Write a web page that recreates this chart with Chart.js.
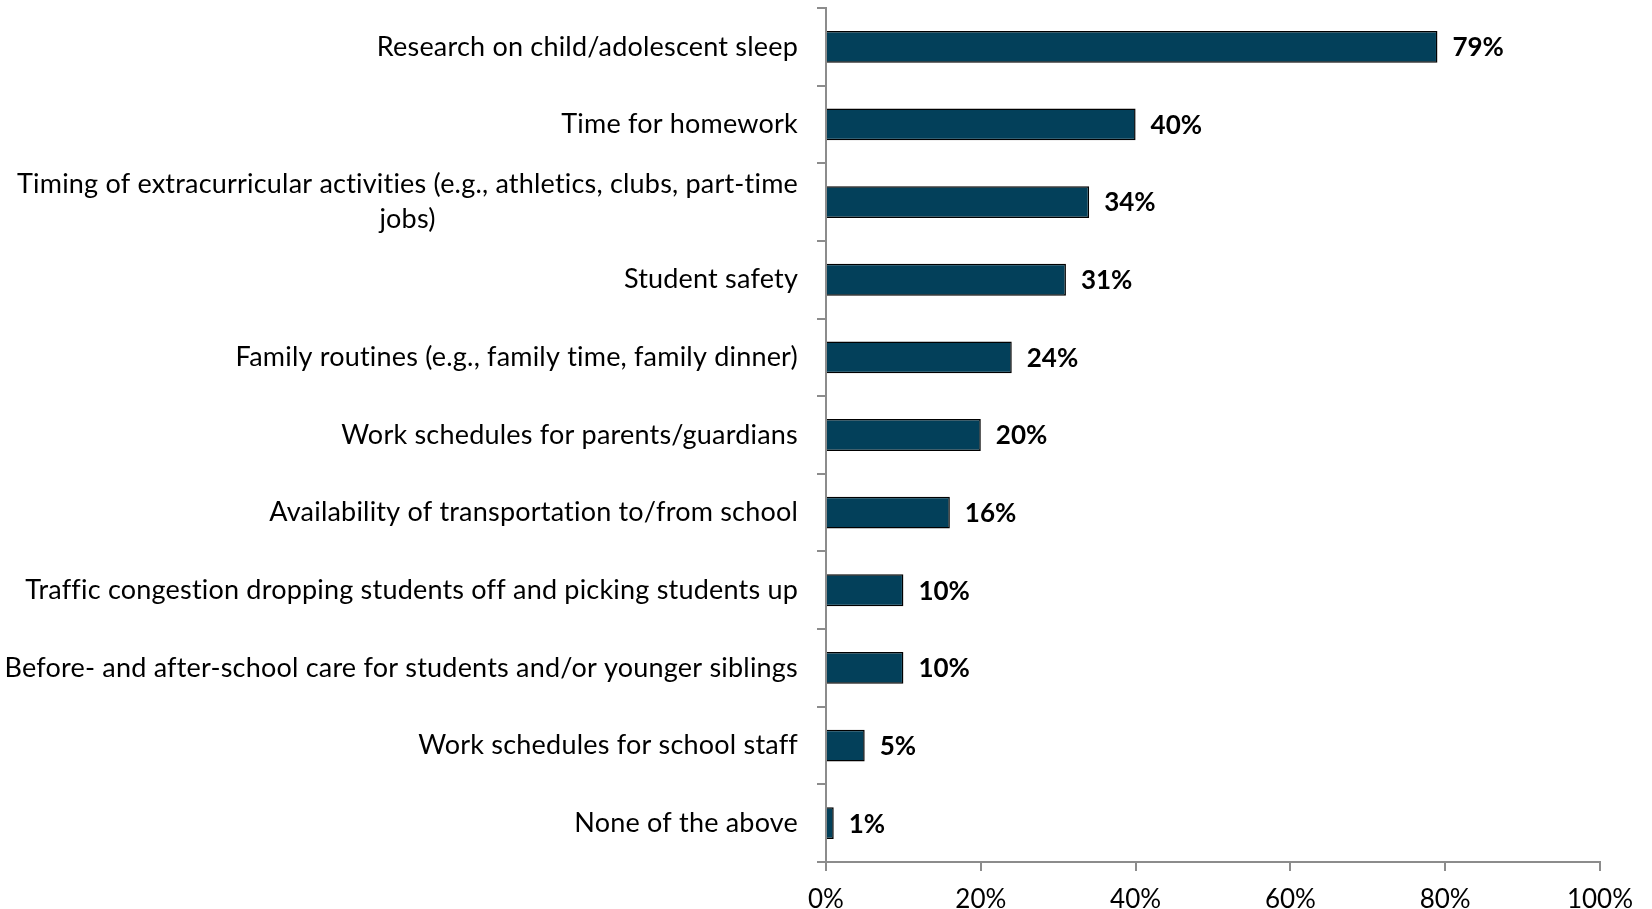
<!DOCTYPE html>
<html>
<head>
<meta charset="utf-8">
<style>
  html, body { margin: 0; padding: 0; background: #ffffff; }
  #wrap { width: 1652px; height: 909px; position: relative; }
</style>
<script src="https://cdn.jsdelivr.net/npm/chart.js@4/dist/chart.umd.min.js"></script>
</head>
<body>
<div id="wrap"><canvas id="chart" width="1652" height="909"></canvas></div>
<script>
// Factors considered (share of respondents, %)
const categories = [
  'Research on child/adolescent sleep',
  'Time for homework',
  ['Timing of extracurricular activities (e.g., athletics, clubs, part-time', 'jobs)'],
  'Student safety',
  'Family routines (e.g., family time, family dinner)',
  'Work schedules for parents/guardians',
  'Availability of transportation to/from school',
  'Traffic congestion dropping students off and picking students up',
  'Before- and after-school care for students and/or younger siblings',
  'Work schedules for school staff',
  'None of the above'
];
const shares = [79, 40, 34, 31, 24, 20, 16, 10, 10, 5, 1];
const axisTicks = [0, 20, 40, 60, 80, 100];

const FONT = 'Lato, "Open Sans", sans-serif';
const AXIS_GREY = '#8c8c8c';

// Category names, right-aligned as a block left of the axis; wrapped lines centred within it
const categoryLabels = {
  id: 'categoryLabels',
  afterDraw(chart) {
    const ctx = chart.ctx;
    const yScale = chart.scales.y;
    const right = chart.chartArea.left - 28;
    const lineGap = 35;
    ctx.save();
    ctx.font = '27px ' + FONT;
    ctx.letterSpacing = '0.2px'; // also keeps "ti"/"ft" as separate letters
    ctx.fillStyle = '#000000';
    ctx.textAlign = 'center';
    ctx.textBaseline = 'middle';
    categories.forEach((label, i) => {
      const lines = Array.isArray(label) ? label : [label];
      const w = Math.max(...lines.map(l => ctx.measureText(l).width));
      const cx = right - w / 2;
      const cy = yScale.getPixelForValue(i);
      lines.forEach((line, j) => {
        ctx.fillText(line, cx, cy + (j - (lines.length - 1) / 2) * lineGap);
      });
    });
    ctx.restore();
  }
};

// Percentage labels at the end of each bar
const valueLabels = {
  id: 'valueLabels',
  afterDatasetsDraw(chart) {
    const ctx = chart.ctx;
    const meta = chart.getDatasetMeta(0);
    ctx.save();
    ctx.font = 'bold 26px ' + FONT;
    ctx.fillStyle = '#000000';
    ctx.textAlign = 'left';
    ctx.textBaseline = 'middle';
    meta.data.forEach((bar, i) => {
      ctx.fillText(shares[i] + '%', bar.x + 15, bar.y + 1);
    });
    ctx.restore();
  }
};

new Chart(document.getElementById('chart'), {
  type: 'bar',
  data: {
    labels: categories.map(c => Array.isArray(c) ? c.join(' ') : c),
    datasets: [{
      data: shares,
      backgroundColor: '#03405a',
      borderColor: '#000000',
      borderWidth: 1.5,
      barPercentage: 0.41,
      categoryPercentage: 1
    }]
  },
  options: {
    indexAxis: 'y',
    responsive: false,
    animation: false,
    devicePixelRatio: 1,
    layout: { padding: { top: 8, right: 52, bottom: 0, left: 817 } },
    plugins: { legend: { display: false }, tooltip: { enabled: false } },
    scales: {
      x: {
        min: 0,
        max: 100,
        afterBuildTicks(scale) { scale.ticks = axisTicks.map(v => ({ value: v })); },
        afterFit(scale) { scale.height = 47; },
        ticks: {
          callback: v => v + '%',
          font: { family: FONT, size: 26, lineHeight: 1 },
          color: '#000000',
          padding: 16,
          maxRotation: 0
        },
        grid: { drawOnChartArea: false, drawTicks: true, tickLength: 9, color: AXIS_GREY, lineWidth: 2 },
        border: { color: AXIS_GREY, width: 2 }
      },
      y: {
        type: 'category',
        ticks: { display: false },
        grid: { offset: true, drawOnChartArea: false, drawTicks: true, tickLength: 9, color: AXIS_GREY, lineWidth: 2 },
        border: { color: AXIS_GREY, width: 2 }
      }
    }
  },
  plugins: [categoryLabels, valueLabels]
});
</script>
</body>
</html>
